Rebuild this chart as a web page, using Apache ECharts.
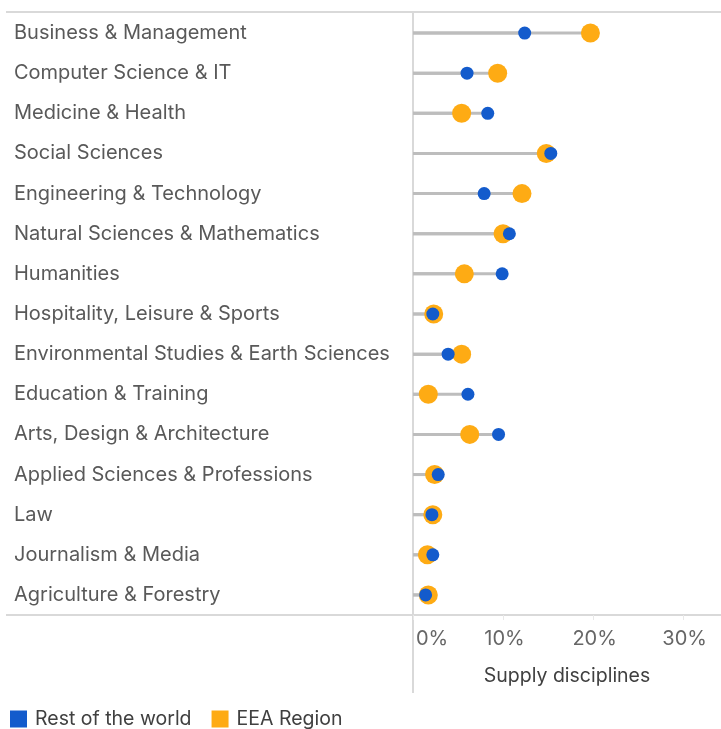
<!DOCTYPE html>
<html>
<head>
<meta charset="utf-8">
<script src="https://cdn.jsdelivr.net/npm/echarts@6/dist/echarts.min.js"></script>
<style>
  html, body { margin: 0; padding: 0; background: #fff; }
  #chart { width: 721px; height: 729px; }
</style>
</head>
<body>
<div id="chart"></div>
<script>
const categories = [
  'Business & Management',
  'Computer Science & IT',
  'Medicine & Health',
  'Social Sciences',
  'Engineering & Technology',
  'Natural Sciences & Mathematics',
  'Humanities',
  'Hospitality, Leisure & Sports',
  'Environmental Studies & Earth Sciences',
  'Education & Training',
  'Arts, Design & Architecture',
  'Applied Sciences & Professions',
  'Law',
  'Journalism & Media',
  'Agriculture & Forestry'
]
// share of supply, in %
const restOfWorld = [12.4, 6.0, 8.3, 15.3, 7.9, 10.7, 9.9, 2.2, 3.9, 6.1, 9.5, 2.8, 2.1, 2.2, 1.4]
const eeaRegion = [19.7, 9.4, 5.4, 14.8, 12.1, 10.0, 5.7, 2.3, 5.4, 1.7, 6.3, 2.4, 2.2, 1.6, 1.7]
const xTicks = [0, 10, 20, 30]

const font = "Inter, 'Noto Sans', sans-serif"
const frameColor = '#d9d9d9'

const chart = echarts.init(document.getElementById('chart'), null, { renderer: 'canvas' })

const option = {
  animation: false,
  textStyle: { fontFamily: font },
  grid: { left: 413, right: 0, top: 13, bottom: 114 },
  legend: {
    data: ['Rest of the world', 'EEA Region'],
    left: 5,
    bottom: -5,
    icon: 'rect',
    itemWidth: 17,
    itemHeight: 17,
    itemGap: 20,
    textStyle: { fontFamily: font, fontSize: 19.5, color: '#404040', padding: [0, 0, 0, 3] }
  },
  xAxis: {
    type: 'value',
    min: 0,
    max: 34.2,
    interval: 10,
    splitLine: { show: false },
    axisLine: { show: false },
    axisTick: { show: true, length: 5, lineStyle: { color: '#e8e8e8' } },
    axisLabel: {
      fontSize: 20,
      color: '#666',
      margin: 14,
      showMaxLabel: false,
      alignMinLabel: 'left',
      padding: [0, 0, 0, 3],
      formatter: v => (xTicks.includes(v) ? v + '%' : '')
    },
    name: 'Supply disciplines',
    nameLocation: 'middle',
    nameGap: 51,
    nameTextStyle: { fontSize: 19.5, color: '#404040' }
  },
  yAxis: {
    type: 'category',
    data: categories,
    inverse: true,
    axisLine: { show: false },
    axisTick: { show: false },
    axisLabel: { align: 'left', margin: 399, fontSize: 20, color: '#595959', padding: [2, 0, 0, 0] }
  },
  series: [
    {
      name: 'stemRest',
      type: 'bar',
      data: restOfWorld,
      barWidth: 3,
      barGap: '-100%',
      itemStyle: { color: '#bdbdbd' },
      silent: true,
      z: 1
    },
    {
      name: 'stemEea',
      type: 'bar',
      data: eeaRegion,
      barWidth: 3,
      itemStyle: { color: '#bdbdbd' },
      silent: true,
      z: 1
    },
    {
      name: 'EEA Region',
      type: 'scatter',
      data: eeaRegion,
      symbolSize: 19,
      itemStyle: { color: '#FEAB14', opacity: 1 },
      z: 3
    },
    {
      name: 'Rest of the world',
      type: 'scatter',
      data: restOfWorld,
      symbolSize: 13,
      itemStyle: { color: '#135BCC', opacity: 1 },
      z: 4
    }
  ],
  graphic: [
    { type: 'line', shape: { x1: 6, y1: 12, x2: 721, y2: 12 }, style: { stroke: frameColor, lineWidth: 2 }, z: 0 },
    { type: 'line', shape: { x1: 6, y1: 615, x2: 721, y2: 615 }, style: { stroke: frameColor, lineWidth: 2 }, z: 0 },
    { type: 'line', shape: { x1: 413, y1: 12, x2: 413, y2: 693 }, style: { stroke: frameColor, lineWidth: 2 }, z: 0 }
  ]
}

chart.setOption(option)
window.onresize = () => {
  chart.resize()
}
</script>
</body>
</html>
